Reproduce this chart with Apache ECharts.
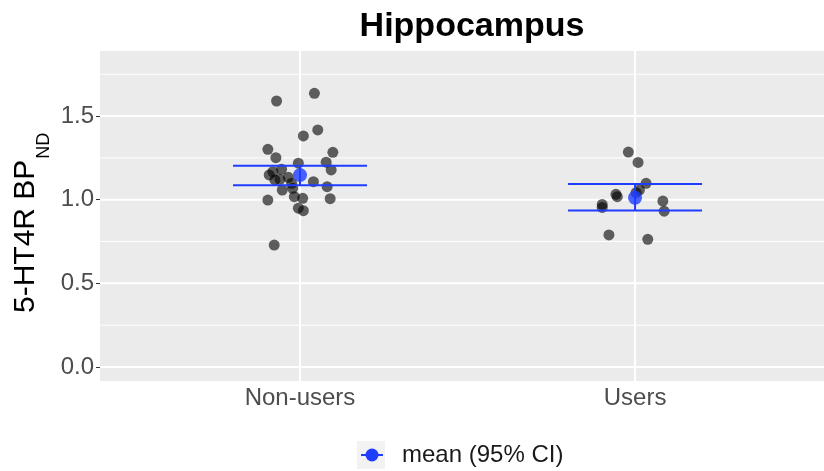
<!DOCTYPE html>
<html><head><meta charset="utf-8">
<script src="https://cdn.jsdelivr.net/npm/echarts@6/dist/echarts.min.js"></script>
<style>html,body{margin:0;padding:0;background:#fff}#c{width:824px;height:471px}</style>
</head><body><div id="c"></div>
<script>
// ---- data ----
const categories = ['Non-users', 'Users'];
const yTicks = [0, 0.5, 1.0, 1.5];
const yMinor = [0.25, 0.75, 1.25, 1.75];
// jitter offsets (x) and values (y) of individual subjects
const nonUsersJitter = [-0.070, 0.043, 0.053, 0.010, -0.096, 0.098, -0.072, -0.005, 0.078, 0.093, -0.055, -0.081, -0.092, -0.075, -0.060, -0.035, -0.025, -0.022, -0.053, 0.040, 0.081, -0.096, -0.017, 0.008, 0.090, -0.005, 0.010, -0.077];
const nonUsersValues = [1.590, 1.636, 1.417, 1.381, 1.301, 1.283, 1.251, 1.218, 1.224, 1.178, 1.182, 1.167, 1.148, 1.118, 1.122, 1.134, 1.098, 1.068, 1.058, 1.108, 1.078, 0.998, 1.018, 1.008, 1.006, 0.949, 0.934, 0.729];
const usersJitter = [-0.020, 0.009, 0.033, 0.013, 0.003, -0.057, -0.053, -0.098, -0.098, 0.083, 0.087, -0.078, 0.038];
const usersValues = [1.285, 1.223, 1.098, 1.058, 1.042, 1.032, 1.018, 0.972, 0.954, 0.992, 0.931, 0.789, 0.763];
const means = [1.147, 1.012];
const lower = [1.086, 0.936];
const upper = [1.203, 1.094];

const FONT = '"Liberation Sans", Arial, Helvetica, sans-serif';
const BLUE = '#1f3dff';
const chart = echarts.init(document.getElementById('c'));

const gridData = []
  .concat(yTicks.map(v => [v, 2, 0]))
  .concat(yMinor.map(v => [v, 1, 0]))
  .concat(categories.map((c, i) => [i + 1, 2, 1]));

function toPts(jit, vals, idx) { return vals.map((v, i) => [idx + jit[i], v]); }

const ctx = document.createElement('canvas').getContext('2d');
ctx.font = '30px ' + FONT;
const mainW = ctx.measureText('5-HT4R BP').width;

const option = {
  animation: false,
  title: {
    text: 'Hippocampus', left: 467, top: 5, textAlign: 'center',
    textStyle: { fontFamily: FONT, fontSize: 34, fontWeight: 'bold', color: '#000' }
  },
  grid: { left: 100, right: 0, top: 51, bottom: 90, show: true, backgroundColor: '#ebebeb', borderWidth: 0 },
  xAxis: {
    type: 'value', min: 0.403, max: 2.564,
    splitLine: { show: false }, axisLine: { show: false },
    axisTick: { show: true, customValues: [1, 2], length: 4, lineStyle: { color: '#333', width: 1 } },
    axisLabel: { customValues: [1, 2], formatter: v => categories[Math.round(v) - 1], fontFamily: FONT, fontSize: 24, color: '#4d4d4d', margin: 5 }
  },
  yAxis: {
    type: 'value', min: -0.084, max: 1.889,
    splitLine: { show: false }, axisLine: { show: false },
    axisTick: { show: true, customValues: yTicks, length: 4, lineStyle: { color: '#333', width: 1 } },
    axisLabel: { customValues: yTicks, formatter: v => v.toFixed(1), fontFamily: FONT, fontSize: 24, color: '#4d4d4d', margin: 6 }
  },
  series: [
    {
      type: 'custom', z: 1, silent: true, data: gridData,
      renderItem: function (params, api) {
        const cs = params.coordSys;
        const v = api.value(0), w = api.value(1), o = api.value(2);
        if (o === 0) {
          const y = api.coord([1, v])[1];
          return { type: 'line', shape: { x1: cs.x, y1: y, x2: cs.x + cs.width, y2: y }, style: { stroke: '#fff', lineWidth: w } };
        }
        const x = api.coord([v, 0])[0];
        return { type: 'line', shape: { x1: x, y1: cs.y, x2: x, y2: cs.y + cs.height }, style: { stroke: '#fff', lineWidth: w } };
      }
    },
    { type: 'scatter', z: 2, symbolSize: 11, itemStyle: { color: 'rgba(0,0,0,0.76)' }, data: toPts(nonUsersJitter, nonUsersValues, 1) },
    { type: 'scatter', z: 2, symbolSize: 11, itemStyle: { color: 'rgba(0,0,0,0.76)' }, data: toPts(usersJitter, usersValues, 2) },
    {
      type: 'custom', z: 3, data: categories.map((c, i) => [i + 1, lower[i], upper[i]]),
      renderItem: function (params, api) {
        const x = api.value(0);
        const pL = api.coord([x - 0.2, api.value(1)]);
        const pR = api.coord([x + 0.2, api.value(1)]);
        const qL = api.coord([x - 0.2, api.value(2)]);
        const qR = api.coord([x + 0.2, api.value(2)]);
        const c = api.coord([x, 0])[0];
        const st = { stroke: BLUE, lineWidth: 2 };
        return { type: 'group', children: [
          { type: 'line', shape: { x1: pL[0], y1: pL[1], x2: pR[0], y2: pR[1] }, style: st },
          { type: 'line', shape: { x1: qL[0], y1: qL[1], x2: qR[0], y2: qR[1] }, style: st },
          { type: 'line', shape: { x1: c, y1: pL[1], x2: c, y2: qL[1] }, style: st }
        ] };
      }
    },
    { type: 'scatter', z: 4, symbolSize: 14, itemStyle: { color: BLUE }, data: means.map((m, i) => [i + 1, m]) }
  ],
  graphic: [
    { type: 'group', x: 26, y: 313, rotation: Math.PI / 2, children: [
      { type: 'text', x: 0, y: 0, style: { text: '5-HT4R BP', font: '30px ' + FONT, fill: '#000', align: 'left', verticalAlign: 'middle' } },
      { type: 'text', x: mainW + 1, y: 18, style: { text: 'ND', font: '18px ' + FONT, fill: '#000', align: 'left', verticalAlign: 'middle' } }
    ] },
    { type: 'rect', shape: { x: 357, y: 441, width: 28, height: 28 }, style: { fill: '#f2f2f2' } },
    { type: 'line', shape: { x1: 361, y1: 455, x2: 383, y2: 455 }, style: { stroke: BLUE, lineWidth: 2 } },
    { type: 'circle', shape: { cx: 372, cy: 455, r: 6.5 }, style: { fill: BLUE } },
    { type: 'text', x: 402, y: 455, style: { text: 'mean (95% CI)', font: '24px ' + FONT, fill: '#1a1a1a', align: 'left', verticalAlign: 'middle' } }
  ]
};
chart.setOption(option);
</script></body></html>
